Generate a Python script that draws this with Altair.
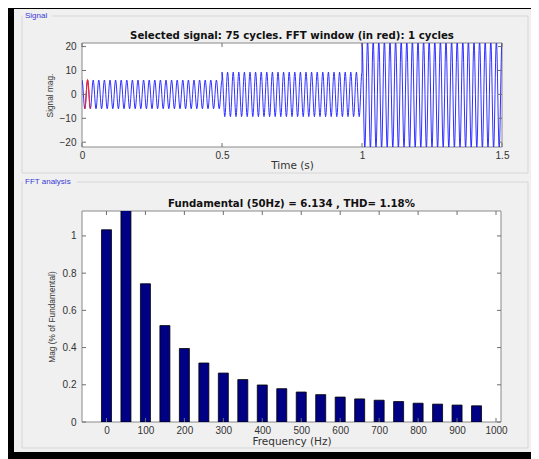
import altair as alt
import numpy as np
import pandas as pd

FONT = "Liberation Sans"
TFONT = "DejaVu Sans"

# ---------------- Signal panel ----------------
signal_title = "Selected signal: 75 cycles. FFT window (in red): 1 cycles"
segment_start_s = [0.0, 0.5, 1.0]
segment_end_s = [0.5, 1.0, 1.5]
segment_amplitude = [6.0, 9.3, 22.5]
fundamental_hz = 50
samples_per_cycle = 20
fft_window_s = [0.01, 0.03]
time_ticks = [0, 0.5, 1, 1.5]
signal_ticks = [-20, -10, 0, 10, 20]
time_domain = [0, 1.5]
signal_domain = [-22, 21.5]

# ---------------- FFT panel ----------------
fft_title = "Fundamental (50Hz) = 6.134 , THD= 1.18%"
harmonic_freq_hz = [0, 50, 100, 150, 200, 250, 300, 350, 400, 450,
                    500, 550, 600, 650, 700, 750, 800, 850, 900, 950]
harmonic_mag_pct = [1.033, 100.0, 0.743, 0.518, 0.395, 0.317, 0.263, 0.228, 0.199, 0.179,
                    0.161, 0.147, 0.134, 0.124, 0.117, 0.110, 0.101, 0.096, 0.091, 0.087]
freq_ticks = list(range(0, 1001, 100))
mag_ticks = [0, 0.2, 0.4, 0.6, 0.8, 1]
freq_domain = [-50, 1000]
mag_domain = [0, 1.134]

# ---------------- build tables ----------------
rows = []
dt = 1.0 / (fundamental_hz * samples_per_cycle)
for a, b, amp in zip(segment_start_s, segment_end_s, segment_amplitude):
    n = int(round((b - a) / dt))
    for k in range(n + 1):
        t = a + k * dt
        rows.append((t, amp * np.cos(2 * np.pi * fundamental_hz * t)))
sig = pd.DataFrame(rows, columns=["t", "s"])
sig["i"] = range(len(sig))
red = sig[(sig.t >= fft_window_s[0] - 1e-9) & (sig.t <= fft_window_s[1] + 1e-9) & (sig.i < 200)].copy()

fft = pd.DataFrame({"f": harmonic_freq_hz, "m": harmonic_mag_pct})
one = pd.DataFrame({"k": [0]})

GRAY = "#f0f0f0"
BOX = "#d6d6d6"
FRAME = "#8a8a8a"
TICK = "#6e6e6e"
LABEL_BLUE = "#3a3ad6"
RIGHT = 449


def panel_decor(W, H, box_top, label, label_w, bottom):
    layers = []
    layers.append(alt.Chart(one).mark_rect(fill=GRAY, stroke=None).encode(
        x=alt.value(-68), x2=alt.value(RIGHT), y=alt.value(-34), y2=alt.value(bottom)))
    layers.append(alt.Chart(one).mark_rect(fill=None, stroke=BOX, strokeWidth=1).encode(
        x=alt.value(-60), x2=alt.value(RIGHT - 3), y=alt.value(box_top), y2=alt.value(bottom - 4)))
    layers.append(alt.Chart(one).mark_rect(fill=GRAY, stroke=None).encode(
        x=alt.value(-59), x2=alt.value(-57 + label_w), y=alt.value(box_top - 3), y2=alt.value(box_top + 3)))
    layers.append(alt.Chart(pd.DataFrame({"txt": [label]})).mark_text(
        align="left", baseline="middle", font=FONT, fontSize=8, color=LABEL_BLUE).encode(
        x=alt.value(-57), y=alt.value(box_top), text="txt:N"))
    layers.append(alt.Chart(one).mark_rect(fill="white", stroke=FRAME, strokeWidth=1).encode(
        x=alt.value(0), x2=alt.value(W), y=alt.value(0), y2=alt.value(H)))
    return layers


def inner_ticks(W, H, xs, ys, xfield, yfield, xscale, yscale, xaxis, yaxis, L=4):
    tx = pd.DataFrame({xfield: xs})
    ty = pd.DataFrame({yfield: ys})
    out = []
    for y0, y1 in [(H, H - L), (0, L)]:
        out.append(alt.Chart(tx).mark_rule(color=TICK, strokeWidth=1).encode(
            x=alt.X(f"{xfield}:Q", scale=xscale, axis=xaxis), y=alt.value(y0), y2=alt.value(y1)))
    for x0, x1 in [(0, L), (W - L, W)]:
        out.append(alt.Chart(ty).mark_rule(color=TICK, strokeWidth=1).encode(
            y=alt.Y(f"{yfield}:Q", scale=yscale, axis=yaxis), x=alt.value(x0), x2=alt.value(x1)))
    return out


def title_text(W, txt):
    return alt.Chart(pd.DataFrame({"txt": [txt]})).mark_text(
        align="center", baseline="middle", font=TFONT, fontSize=10.2, fontWeight="bold",
        color="#111111").encode(
        x=alt.value(W / 2), y=alt.value(-7), text="txt:N")


# ---------------- top chart ----------------
W1, H1 = 420, 104
xs1 = alt.Scale(domain=time_domain, nice=False, zero=False)
ys1 = alt.Scale(domain=signal_domain, nice=False, zero=False)
ax_t = alt.Axis(values=time_ticks, format="~g", title="Time (s)", labelPadding=3,
                titlePadding=0, labelFlush=False, labelOverlap=False, zindex=1)
ax_s = alt.Axis(values=signal_ticks, format="d", title="Signal mag.", labelPadding=6,
                titlePadding=5, labelOverlap=False, labelBound=False, zindex=1,
                titleFont=FONT, titleFontSize=8.3)

line = alt.Chart(sig).mark_line(color="#1a1aff", strokeWidth=0.9, clip=True).encode(
    x=alt.X("t:Q", scale=xs1, axis=ax_t),
    y=alt.Y("s:Q", scale=ys1, axis=ax_s),
    order="i:Q")
red_line = alt.Chart(red).mark_line(color="#ff2020", strokeWidth=1.1, clip=True).encode(
    x=alt.X("t:Q", scale=xs1, axis=ax_t), y=alt.Y("s:Q", scale=ys1, axis=ax_s), order="i:Q")

top = alt.layer(
    *panel_decor(W1, H1, -27, "Signal", 27, 134),
    line, red_line,
    *inner_ticks(W1, H1, time_ticks, signal_ticks, "t", "s", xs1, ys1, ax_t, ax_s),
    title_text(W1, signal_title),
).properties(width=W1, height=H1)

# ---------------- bottom chart ----------------
W2, H2 = 419, 211
xs2 = alt.Scale(domain=freq_domain, nice=False, zero=False)
ys2 = alt.Scale(domain=mag_domain, nice=False, zero=True)
ax_f = alt.Axis(values=freq_ticks, format="d", title="Frequency (Hz)", labelPadding=3,
                titlePadding=1.5, labelFlush=False, labelOverlap=False, zindex=1)
ax_m = alt.Axis(values=mag_ticks, format="~g", title="Mag (% of Fundamental)", labelPadding=6,
                titlePadding=6, labelOverlap=False, zindex=1,
                titleFont=FONT, titleFontSize=8.3)

bars = alt.Chart(fft).mark_bar(size=10, color="#000085", stroke="#000000", strokeWidth=0.8,
                               clip=True, orient="vertical").encode(
    x=alt.X("f:Q", scale=xs2, axis=ax_f),
    y=alt.Y("m:Q", scale=ys2, axis=ax_m))

bottom = alt.layer(
    *panel_decor(W2, H2, -29, "FFT analysis", 52, 241),
    bars,
    *inner_ticks(W2, H2, freq_ticks, mag_ticks, "f", "m", xs2, ys2, ax_f, ax_m),
    title_text(W2, fft_title),
).properties(width=W2, height=H2)

chart = alt.vconcat(top, bottom, spacing=0).configure(
    background="#000000",
    padding={"left": 6, "top": 1, "right": 0, "bottom": 7},
).configure_view(stroke=None).configure_axis(
    grid=False, domain=False, ticks=False, tickSize=0, labelOverlap=False,
    labelFont=FONT, labelFontSize=10, labelColor="#333333",
    titleFont=TFONT, titleFontSize=10.5, titleFontWeight="normal", titleColor="#333333",
)

chart.save("out.html", embed_options={"renderer": "svg", "actions": False})
